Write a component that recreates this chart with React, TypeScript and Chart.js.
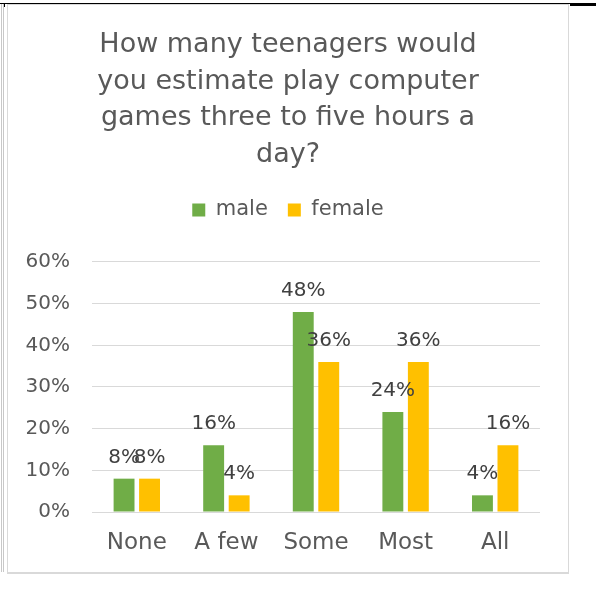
import React, { useEffect, useRef } from 'react';
import { Chart, registerables } from 'chart.js';

Chart.register(...registerables);

const titleLines = [
  'How many teenagers would',
  'you estimate play computer',
  'games three to five hours a',
  'day?',
];
const categories = ['None', 'A few', 'Some', 'Most', 'All'];
const seriesNames = ['male', 'female'];
const maleValues = [8, 16, 48, 24, 4];
const femaleValues = [8, 4, 36, 36, 16];
const yMin = 0;
const yMax = 60;
const yStep = 10;

const FONT = 'DejaVu Sans';
const TEXT = '#595959';
const GREEN = '#70AD47';
const GOLD = '#FFC000';

const framePlugin = {
  id: 'frame',
  beforeDraw(chart: any) {
    const ctx = chart.ctx;
    ctx.save();
    ctx.fillStyle = '#ffffff';
    ctx.fillRect(0, 0, chart.width, chart.height);
    ctx.strokeStyle = '#d9d9d9';
    ctx.lineWidth = 1;
    ctx.strokeRect(7.5, 4.5, 561, 568);
    ctx.beginPath();
    ctx.moveTo(568.5, 4);
    ctx.lineTo(568.5, 574);
    ctx.moveTo(7, 573.5);
    ctx.lineTo(569, 573.5);
    ctx.stroke();
    ctx.strokeStyle = '#c8c8c8';
    ctx.beginPath();
    ctx.moveTo(1.5, 4);
    ctx.lineTo(1.5, 572);
    ctx.moveTo(3.5, 4);
    ctx.lineTo(3.5, 572);
    ctx.stroke();
    ctx.fillStyle = '#000000';
    ctx.fillRect(0, 3, chart.width, 1);
    ctx.fillRect(570, 3, chart.width - 570, 3);
    ctx.fillRect(4, 3, 1, 4);
    ctx.restore();
  },
};

const dataLabelPlugin = {
  id: 'dataLabels',
  afterDatasetsDraw(chart: any) {
    const ctx = chart.ctx;
    ctx.save();
    ctx.font = `20px "${FONT}"`;
    ctx.fillStyle = '#404040';
    ctx.textAlign = 'center';
    ctx.textBaseline = 'alphabetic';
    chart.data.datasets.forEach((ds: any, i: number) => {
      const meta = chart.getDatasetMeta(i);
      meta.data.forEach((el: any, j: number) => {
        ctx.fillText(`${ds.data[j]}%`, el.x, el.y - 16);
      });
    });
    ctx.restore();
  },
};

export default function App() {
  const ref = useRef<HTMLCanvasElement | null>(null);

  useEffect(() => {
    if (!ref.current) return;
    const chart = new Chart(ref.current, {
      type: 'bar',
      data: {
        labels: categories,
        datasets: [
          {
            label: seriesNames[0],
            data: maleValues,
            backgroundColor: GREEN,
            borderWidth: 0,
            categoryPercentage: 0.569,
            barPercentage: 0.82,
          },
          {
            label: seriesNames[1],
            data: femaleValues,
            backgroundColor: GOLD,
            borderWidth: 0,
            categoryPercentage: 0.569,
            barPercentage: 0.82,
          },
        ],
      },
      options: {
        responsive: false,
        animation: false,
        devicePixelRatio: 1,
        layout: { padding: { left: 0, right: 20, top: 0, bottom: 0 } },
        plugins: {
          title: {
            display: true,
            text: titleLines,
            color: TEXT,
            font: { family: FONT, size: 27, weight: 'normal', lineHeight: 1.36 },
            padding: { top: 26.5, bottom: 6.1 },
          },
          legend: {
            display: true,
            position: 'top',
            labels: {
              boxWidth: 13,
              boxHeight: 13,
              padding: 20,
              color: TEXT,
              font: { family: FONT, size: 21 },
            },
          },
          subtitle: {
            display: true,
            text: '',
            weight: 500,
            font: { size: 1, lineHeight: 1 },
            padding: { top: 0, bottom: 30.5 },
          },
          tooltip: { enabled: false },
        },
        scales: {
          x: {
            grid: { display: false, drawTicks: false },
            border: { display: false },
            ticks: {
              color: TEXT,
              font: { family: FONT, size: 23 },
              padding: 17,
            },
            afterFit(scale: any) {
              scale.height = 84;
            },
          },
          y: {
            min: yMin,
            max: yMax,
            grid: { color: '#d9d9d9', lineWidth: 1, drawTicks: false },
            border: { display: false },
            ticks: {
              stepSize: yStep,
              color: TEXT,
              font: { family: FONT, size: 20 },
              padding: 22,
              callback: (v: any) => `${v}%`,
            },
            afterFit(scale: any) {
              scale.width = 92;
            },
          },
          yRight: {
            position: 'right',
            min: yMin,
            max: yMax,
            grid: { display: false, drawTicks: false },
            border: { display: false },
            ticks: { display: false },
            afterFit(scale: any) {
              scale.width = 36;
            },
          },
        },
      },
      plugins: [framePlugin, dataLabelPlugin],
    } as any);
    return () => chart.destroy();
  }, []);

  return (
    <div style={{ position: 'fixed', left: 0, top: 0, width: 596, height: 596 }}>
      <canvas ref={ref} width={596} height={596} style={{ display: 'block' }} />
    </div>
  );
}
